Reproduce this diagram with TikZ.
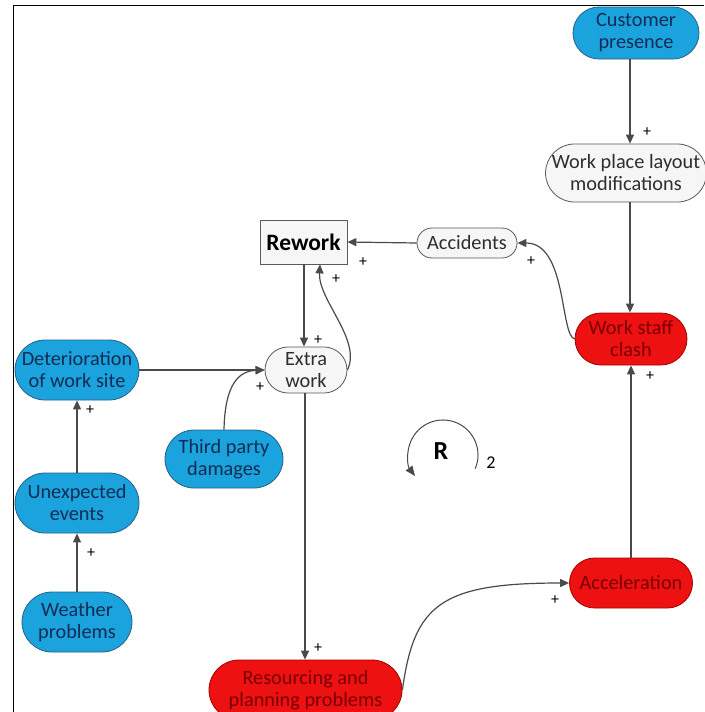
\documentclass[tikz,border=0pt]{standalone}
\usepackage{fontspec}
\setmainfont{Carlito}
\usetikzlibrary{arrows.meta,shapes.misc}
\definecolor{bluefill}{HTML}{1AA3DD}
\definecolor{blueline}{HTML}{2A5F86}
\definecolor{bluetext}{HTML}{142C55}
\definecolor{redfill}{HTML}{EE1111}
\definecolor{redline}{HTML}{A00000}
\definecolor{redtext}{HTML}{7A0000}
\definecolor{whitefill}{HTML}{F6F6F6}
\definecolor{grayline}{HTML}{5A5A5A}
\definecolor{graytext}{HTML}{2E2E2E}
\definecolor{arrowc}{HTML}{4A4A4A}
\begin{document}
\begin{tikzpicture}[x=1pt,y=-1pt,
  font=\fontsize{20.3}{22}\selectfont,
  base/.style={rounded rectangle, draw, line width=0.8pt, align=center, inner sep=0pt},
  bluenode/.style={base, fill=bluefill, draw=blueline, text=bluetext},
  rednode/.style={base, fill=redfill, draw=redline, text=redtext},
  whitenode/.style={base, fill=whitefill, draw=grayline, text=graytext},
  conn/.style={draw=arrowc, line width=1.2pt, -{Triangle[length=9pt,width=8pt]}},
  plus/.style={font=\fontsize{16}{16}\selectfont, text=black, inner sep=0pt}
]
\useasboundingbox (0,0) rectangle (704,712);
\fill[white] (0,0) rectangle (704,712);
\draw[line width=1pt, black] (13,712) -- (13,5) -- (704,5);

% nodes
\node[bluenode, minimum width=126pt, minimum height=52pt] (cust) at (636,33) {Customer\\presence};
\node[whitenode, minimum width=157pt, minimum height=58pt] (wpl) at (626,173) {Work place layout\\modifications};
\node[rednode, minimum width=112pt, minimum height=52pt] (wsc) at (631,339) {Work staff\\clash};
\node[whitenode, minimum width=100pt, minimum height=30pt] (acc) at (467,243) {Accidents};
\node[draw=grayline, fill=whitefill, line width=0.8pt, minimum width=87pt, minimum height=44pt, inner sep=0pt,
      font=\fontsize{23.5}{24}\selectfont\bfseries] (rew) at (303.5,242) {Rework};
\node[whitenode, minimum width=82pt, minimum height=46pt] (ext) at (306,370) {Extra\\work};
\node[bluenode, minimum width=124pt, minimum height=60pt] (det) at (77,370) {Deterioration\\of work site};
\node[bluenode, minimum width=118pt, minimum height=58pt] (tpd) at (224,459) {Third party\\damages};
\node[bluenode, minimum width=124pt, minimum height=60pt] (une) at (77,503) {Unexpected\\events};
\node[bluenode, minimum width=110pt, minimum height=60pt] (wea) at (77,622) {Weather\\problems};
\node[rednode, minimum width=193pt, minimum height=60pt] (res) at (305.5,690) {Resourcing and\\planning problems};
\node[rednode, minimum width=123pt, minimum height=50pt] (accel) at (631,583) {Acceleration};

\coordinate (colA) at (630,0);

% connectors
\draw[conn] (cust.south -| colA) -- (wpl.north -| colA);
\draw[conn] (wpl.south -| colA) -- (wsc.north -| colA);
\draw[conn] (accel.north) -- (wsc.south);
\draw[conn] (wsc.west) .. controls (560,335) and (567,243) .. (acc.east);
\draw[conn] (acc.west) -- (rew.east);
\draw[conn] ([xshift=0.5pt]rew.south) -- ([xshift=0.5pt]rew.south |- ext.north);
\draw[conn] (ext.east) .. controls (362,340) and (318,300) .. ([xshift=16.5pt]rew.south);
\draw[conn] (det.east) -- (ext.west);
\draw[conn] (tpd.north) .. controls (225,382) and (240,371) .. (ext.west);
\draw[conn] (une.north) -- (det.south);
\draw[conn] (wea.north) -- (une.south);
\draw[conn] ([xshift=-1pt]ext.south) -- ([xshift=-1pt]ext.south |- res.north);
\draw[conn] (res.east) .. controls (414,605) and (440,583) .. (accel.west);

% polarity labels
\node[plus] (p1) at (647,132) {+};
\node[plus] (p2) at (650,376) {+};
\node[plus] (p3) at (531,261) {+};
\node[plus] (p4) at (363,262) {+};
\node[plus] (p5) at (336,279) {+};
\node[plus] (p6) at (318,340) {+};
\node[plus] (p7) at (260,387) {+};
\node[plus] (p8) at (90,410) {+};
\node[plus] (p9) at (91,553) {+};
\node[plus] (p10) at (318,648) {+};
\node[plus] (p11) at (555,600) {+};

% loop symbol
\coordinate (loopc) at (443,455);
\draw[draw=arrowc, line width=1pt, -{Triangle[length=10pt,width=8pt]}]
  ([shift={(-23:35pt)}]loopc) arc[start angle=-23, end angle=217, radius=35pt];
\node[font=\fontsize{26}{26}\selectfont\bfseries, inner sep=0pt] (rlab) at (441,451) {R};
\node[font=\fontsize{18}{18}\selectfont, inner sep=0pt] (rnum) at (491,463) {2};
\end{tikzpicture}
\end{document}
